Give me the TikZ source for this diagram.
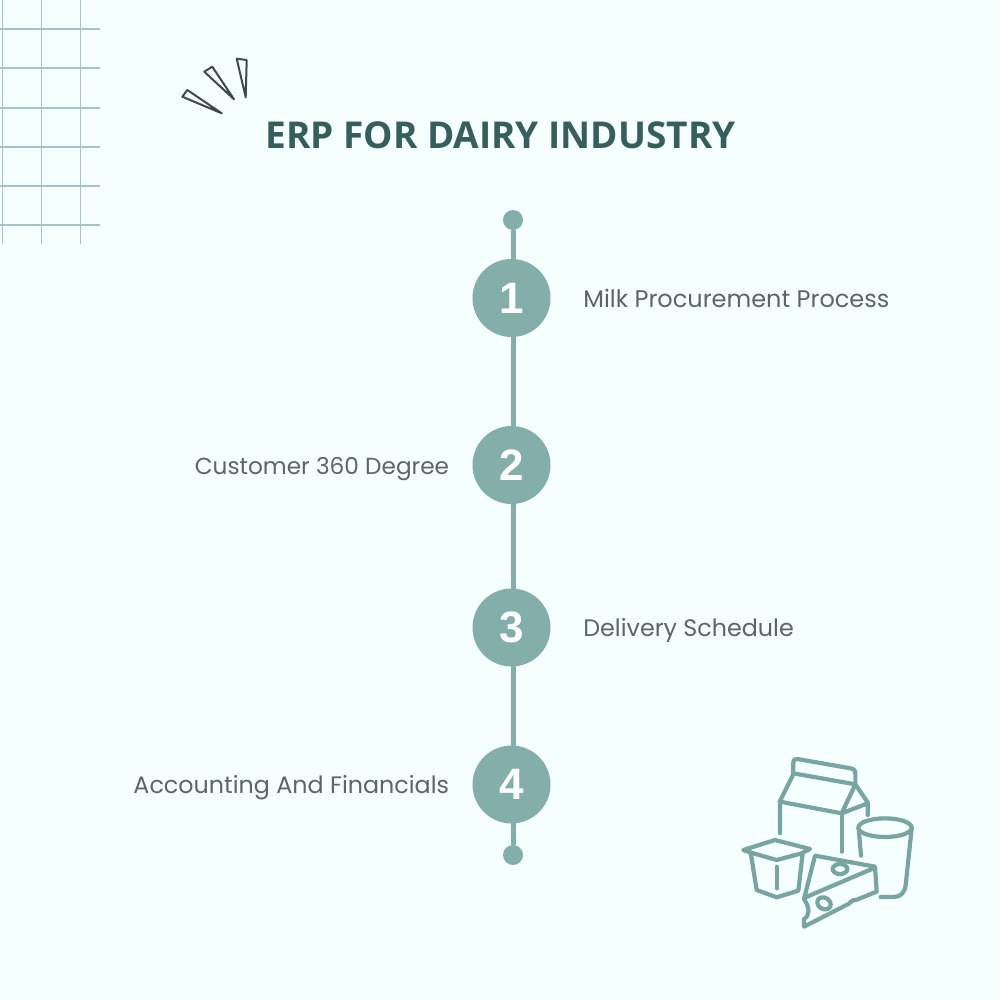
\documentclass[tikz,border=0pt]{standalone}
\usepackage{fontspec}
\setmainfont{Open Sans}
\newfontfamily\numfont{Liberation Sans}
\newfontfamily\labfont{Poppins}
\definecolor{bg}{HTML}{F4FFFE}
\definecolor{teal}{HTML}{84AEAA}
\definecolor{icon}{HTML}{79A5A1}
\definecolor{titlec}{HTML}{365F5C}
\definecolor{txt}{HTML}{5D6568}
\definecolor{gridc}{HTML}{A6C4C5}
\definecolor{spark}{HTML}{3F4A4A}
\tikzset{
  numdisc/.style={circle,fill=teal,minimum size=39pt,inner sep=0pt,text=white,font=\numfont\bfseries\fontsize{22}{22}\selectfont},
  enddot/.style={circle,fill=teal,minimum size=10pt,inner sep=0pt},
  lab/.style={text=txt,inner sep=0pt,font=\labfont\fontsize{#1}{14}\selectfont},
  gridline/.style={draw=gridc,line width=0.55pt},
  sparkline/.style={draw=spark,line width=1pt,line join=round},
  iconline/.style={draw=icon,line width=2.1pt,line cap=round,line join=round}
}
\begin{document}
\begin{tikzpicture}[x=0.5pt,y=-0.5pt]
\useasboundingbox[fill=bg] (0,0) rectangle (1000,1000);
% grid
\foreach \gx in {2.5,41.5,80.5} \draw[gridline] (\gx,0) -- (\gx,244);
\foreach \gy in {29,68,108,147,186,225} \draw[gridline] (0,\gy) -- (100,\gy);
% sparks
\draw[sparkline] (221.7,113.3) -- (182.3,96.7) -- (187.3,90) -- cycle;
\draw[sparkline] (234,99.3) -- (204.3,71.7) -- (212.3,66.7) -- cycle;
\draw[sparkline] (245.7,97.3) -- (236.7,58.7) -- (246.7,60) -- cycle;
% title
\node[text=titlec,inner sep=0pt,font=\bfseries\fontsize{18.5}{22}\selectfont] (title) at (500.5,135) {ERP FOR DAIRY INDUSTRY};
% timeline
\node[enddot] (top) at (513,220) {};
\node[enddot] (bottom) at (513,855) {};
\draw[teal,line width=2.5pt] (top) -- (bottom);
\node[numdisc] (n1) at (511.5,298) {1};
\node[numdisc] (n2) at (511.5,465) {2};
\node[numdisc] (n3) at (511.5,627.5) {3};
\node[numdisc] (n4) at (511.5,784.5) {4};
\node[lab=12,anchor=base west] (l1) at (583,307) {Milk Procurement Process};
\node[lab=11.6,anchor=base east] (l2) at (449.5,474) {Customer 360 Degree};
\node[lab=11.9,anchor=base west] (l3) at (583,636) {Delivery Schedule};
\node[lab=11.9,anchor=base east] (l4) at (449.5,793) {Accounting And Financials};
% dairy icon, coordinates in thirds of a pixel
\begin{scope}[shift={(730,745)},x=0.16667pt,y=-0.16667pt,iconline]
\draw (190,85) -- (190,52) .. controls (190,44) and (194,41) .. (202,42) -- (362,70) .. controls (372,72) and (376,76) .. (376,86) -- (376,118);
\draw (190,85) -- (376,118);
\draw (150,265) -- (150,168) -- (190,88);
\draw (150,170) -- (335,205) -- (376,118) -- (413,172) -- (413,210);
\draw (335,205) -- (413,175);
\draw (335,205) -- (335,320);
\draw (465,248) ellipse [x radius=80,y radius=28];
\draw (386,250) -- (393,332);
\draw (545,250) -- (527,420) .. controls (524,445) and (510,456) .. (490,456) -- (452,456);
\draw (40,315) -- (135,285) -- (240,312) -- (215,325) -- (140,345) -- (60,322) -- cycle;
\draw (62,322) -- (80,435) -- (140,457) -- (205,437) -- (218,325);
\draw (140,365) -- (140,430);
\draw (255,332) -- (435,365) -- (440,440) -- (378,465) .. controls (362,462) and (362,478) .. (345,482) -- (222,545) -- (222,522) .. controls (240,510) and (240,490) .. (222,462) -- cycle;
\draw (224,458) -- (435,368);
\draw (330,372) ellipse [x radius=22,y radius=15];
\draw[rotate around={-30:(282,475)}] (282,475) ellipse [x radius=21,y radius=17];
\end{scope}
\end{tikzpicture}
\end{document}
